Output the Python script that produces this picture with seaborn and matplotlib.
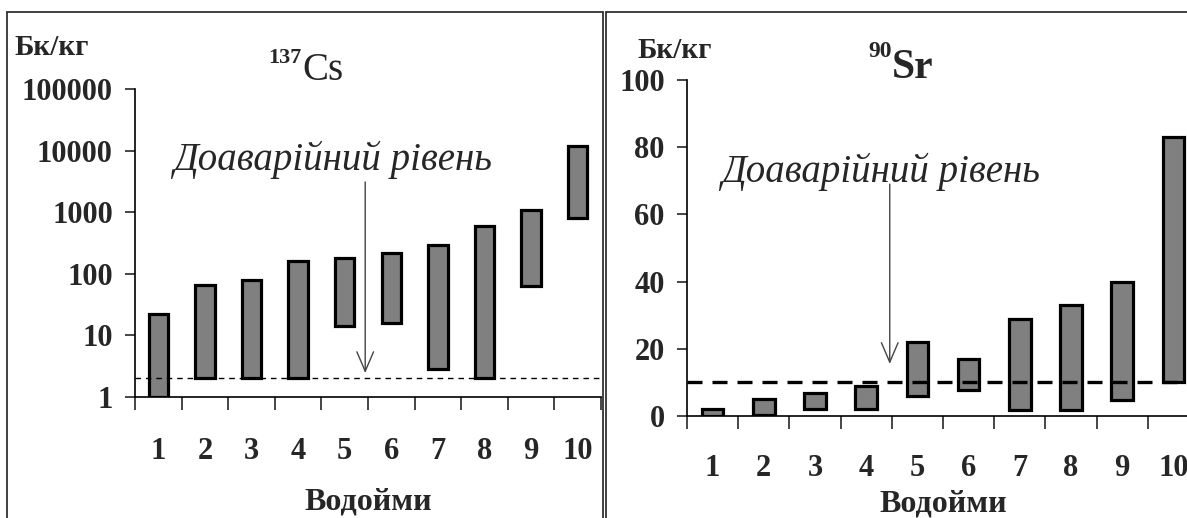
import matplotlib
matplotlib.use("Agg")
import matplotlib.pyplot as plt
from matplotlib.lines import Line2D
from matplotlib.ticker import FixedLocator, NullLocator
import numpy as np
import pandas as pd
import seaborn as sns

# дані
water_bodies = ["1", "2", "3", "4", "5", "6", "7", "8", "9", "10"]

cs_low = [1, 2, 2, 2, 14, 16, 2.8, 2, 63, 810]
cs_high = [22, 66, 80, 162, 180, 220, 293, 600, 1090, 11800]
cs_level = 2
cs_ticks = [1, 10, 100, 1000, 10000, 100000]

sr_low = [0, 0.3, 2, 2, 6, 7.7, 1.8, 1.8, 4.8, 10]
sr_high = [2, 5, 6.8, 9, 22, 17, 29, 33, 40, 83]
sr_level = 10
sr_ticks = [0, 20, 40, 60, 80, 100]

W, H = 1187, 518


def fx(x):
    return x / W


def fy(y):
    return 1 - y / H


sns.set_style("ticks", {"axes.edgecolor": "black"})
plt.rcParams["font.family"] = ["Liberation Serif", "DejaVu Serif"]

fig = plt.figure(figsize=(W / 100, H / 100), dpi=100)
fig.patch.set_facecolor("white")

ax1 = fig.add_axes([fx(135), fy(397), (601 - 135) / W, (397 - 89) / H])
ax2 = fig.add_axes([fx(687), fy(416), (1199 - 687) / W, (416 - 80) / H])


def draw_panel(ax, low, high, level, dash_lw, dashes):
    df = pd.DataFrame({"water": water_bodies, "low": low, "high": high})
    df["span"] = df["high"] - df["low"]
    sns.barplot(data=df, x="water", y="span", bottom=df["low"].to_numpy(),
                order=water_bodies, color="#808080", saturation=1,
                edgecolor="black", linewidth=2.3, width=0.42,
                errorbar=None, ax=ax)
    ax.axhline(level, color="black", lw=dash_lw, dashes=dashes, zorder=4)
    ax.set_xlim(-0.5, 9.5)
    ax.set_ylabel("")
    sns.despine(ax=ax)
    for s in ["left", "bottom"]:
        ax.spines[s].set_linewidth(1.2)
    ax.xaxis.set_minor_locator(FixedLocator(np.arange(-0.5, 10, 1)))
    ax.tick_params(axis="x", which="major", length=0)
    ax.tick_params(axis="x", which="minor", length=9, width=1.2, direction="out")
    ax.tick_params(axis="y", which="major", length=7, width=1.2, direction="out",
                   pad=9)


# 137Cs, логарифмічна шкала
draw_panel(ax1, cs_low, cs_high, cs_level, 1.0, (4, 3.5))
ax1.set_yscale("log")
ax1.set_ylim(1, 100000)
ax1.yaxis.set_major_locator(FixedLocator(cs_ticks))
ax1.yaxis.set_minor_locator(NullLocator())
ax1.set_yticklabels([str(t) for t in cs_ticks], fontweight="bold", fontsize=22)
ax1.set_xticklabels(water_bodies, fontweight="bold", fontsize=22)
ax1.tick_params(axis="x", which="major", pad=29)
ax1.set_xlabel("Водойми", fontsize=23, fontweight="bold", labelpad=15)

# 90Sr, лінійна шкала
draw_panel(ax2, sr_low, sr_high, sr_level, 2.4, (4.5, 3))
ax2.set_ylim(0, 100)
ax2.yaxis.set_major_locator(FixedLocator(sr_ticks))
ax2.set_yticklabels([str(t) for t in sr_ticks], fontweight="bold", fontsize=22)
ax2.set_xticklabels(water_bodies, fontweight="bold", fontsize=22)
ax2.tick_params(axis="x", which="major", pad=27)
ax2.set_xlabel("Водойми", fontsize=23, fontweight="bold", labelpad=5)

# стрілки до доаварійного рівня
arrow = dict(arrowstyle="->,head_length=0.7,head_width=0.3", color="#444444",
             lw=1.0, mutation_scale=20, shrinkA=0, shrinkB=0)
ax1.annotate("", xy=(4.44, 2.45), xytext=(4.44, 3100), arrowprops=arrow)
ax2.annotate("", xy=(3.46, 15.5), xytext=(3.46, 69), arrowprops=arrow)

# підписи
fig.text(fx(333), fy(170), "Доаварійний рівень", fontsize=28, style="italic",
         ha="center", va="baseline")
fig.text(fx(881), fy(182), "Доаварійний рівень", fontsize=28, style="italic",
         ha="center", va="baseline")

fig.text(fx(52), fy(55), "Бк/кг", fontsize=21, fontweight="bold",
         ha="center", va="baseline")
fig.text(fx(675), fy(58), "Бк/кг", fontsize=21, fontweight="bold",
         ha="center", va="baseline")

fig.text(fx(302), fy(63), "137", fontsize=16, fontweight="bold",
         ha="right", va="baseline")
fig.text(fx(302), fy(80), "Cs", fontsize=28, ha="left", va="baseline")
fig.text(fx(892), fy(57), "90", fontsize=17, fontweight="bold",
         ha="right", va="baseline")
fig.text(fx(892), fy(78), "Sr", fontsize=30, fontweight="bold",
         ha="left", va="baseline")

# рамки панелей
frame = dict(color="#333333", lw=1.3, transform=fig.transFigure)
fig.lines.extend([
    Line2D([fx(7), fx(603)], [fy(12), fy(12)], **frame),
    Line2D([fx(7), fx(7)], [fy(12), 0], **frame),
    Line2D([fx(603), fx(603)], [fy(12), 0], **frame),
    Line2D([fx(606), 1], [fy(12), fy(12)], **frame),
    Line2D([fx(606), fx(606)], [fy(12), 0], **frame),
])

fig.savefig("out.png", dpi=100)
